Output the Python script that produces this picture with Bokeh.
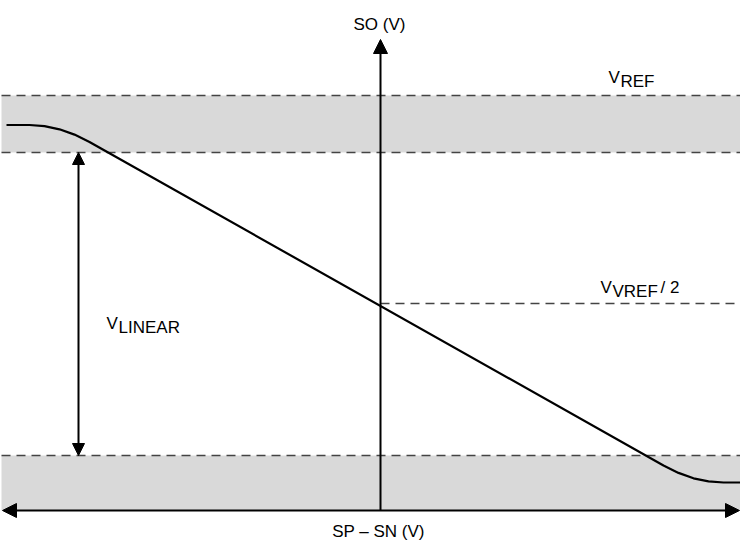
from bokeh.plotting import figure
from bokeh.models import Range1d, Arrow, NormalHead
from bokeh.core.properties import value
from bokeh.embed import file_html
from bokeh.resources import INLINE

# ---- data (schematic units: x = SP - SN, y = SO) ----
diff_input = [-374, -351, -336, -321, -306, -291, 283, 298, 313, 328, 343, 368]
so_output = [385.5, 385.5, 384.4, 381.2, 375.9, 368.5, 45.0, 37.6, 32.2, 29.1, 28.0, 28.0]

vref_level = 415
lin_upper = 358
vref_half = 207
lin_lower = 55
zero_level = 0
x_left = -379
x_right = 360
so_axis_top = 471
vlinear_x = -302

band_bottoms = [lin_upper, zero_level]
band_tops = [vref_level, lin_lower]
dash_levels = [vref_level, lin_upper, lin_lower]

FONT = value("Liberation Sans")
FS = value("17px")

p = figure(width=740, height=540, output_backend="svg", toolbar_location=None,
           x_range=Range1d(-380, 360), y_range=Range1d(-30, 510),
           min_border=0, outline_line_color=None)
p.axis.visible = False
p.grid.visible = False
p.background_fill_color = "white"
p.border_fill_color = "white"

# grey bands
p.quad(left=[x_left] * 2, right=[x_right + 20] * 2, bottom=band_bottoms, top=band_tops,
       fill_color="#d9d9d9", line_color=None)

# dashed levels
for lvl in dash_levels:
    p.line([x_left, x_right + 20], [lvl, lvl], line_color="#444444", line_width=1.5,
           line_dash="9 6")
p.line([0, x_right + 20], [vref_half, vref_half], line_color="#444444", line_width=1.5,
       line_dash="9 6")

# transfer curve
p.line(diff_input, so_output, line_color="black", line_width=2.2)

# axes arrows
p.add_layout(Arrow(end=NormalHead(size=14, fill_color="black", line_color="black"),
                   x_start=0, y_start=zero_level, x_end=0, y_end=so_axis_top,
                   line_width=2, line_color="black"))
p.add_layout(Arrow(start=NormalHead(size=14, fill_color="black", line_color="black"),
                   end=NormalHead(size=14, fill_color="black", line_color="black"),
                   x_start=x_left + 1, y_start=zero_level, x_end=x_right - 1, y_end=zero_level,
                   line_width=2, line_color="black"))
# V_LINEAR arrow
p.add_layout(Arrow(start=NormalHead(size=12, fill_color="black", line_color="black"),
                   end=NormalHead(size=12, fill_color="black", line_color="black"),
                   x_start=vlinear_x, y_start=lin_lower, x_end=vlinear_x, y_end=lin_upper,
                   line_width=2, line_color="black"))

# labels
def txt(x, y, s, align="left"):
    p.text(x=[x], y=[y], text=[s], text_font=FONT, text_font_size=FS,
           text_align=align, text_baseline="alphabetic", text_color="black")

txt(-1, 486, "SO (V)", "center")
txt(-2, -21, "SP \u2013 SN (V)", "center")

txt(228, 433, "V")
txt(240, 429, "REF")

txt(220, 223, "V")
txt(232, 219, "VREF")
txt(280, 223, "/ 2")

txt(-274, 187, "V")
txt(-262, 183, "LINEAR")

open("out.html", "w").write(file_html(p, INLINE))
